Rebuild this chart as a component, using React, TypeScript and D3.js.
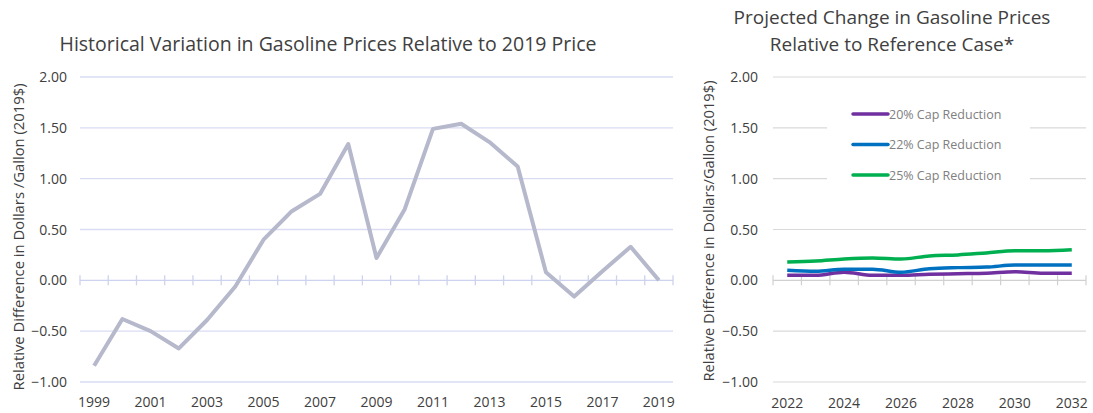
import React, { useEffect, useRef } from 'react';
import * as d3 from 'd3';

// historical data (relative to 2019 price)
const histYears = d3.range(1999, 2020).map(String);
const histValues = [
  -0.84, -0.38, -0.5, -0.67, -0.39, -0.06, 0.4, 0.68, 0.85, 1.34, 0.22,
  0.7, 1.49, 1.54, 1.36, 1.12, 0.08, -0.16, 0.09, 0.33, 0.0,
];

// projected data
const projYears = d3.range(2022, 2033).map(String);
const cap20 = [0.05, 0.05, 0.08, 0.05, 0.05, 0.06, 0.065, 0.07, 0.085, 0.07, 0.07];
const cap22 = [0.1, 0.09, 0.11, 0.11, 0.08, 0.115, 0.125, 0.13, 0.15, 0.15, 0.15];
const cap25 = [0.18, 0.19, 0.21, 0.22, 0.21, 0.24, 0.25, 0.27, 0.29, 0.29, 0.3];

const seriesNames = ['20% Cap Reduction', '22% Cap Reduction', '25% Cap Reduction'];
const seriesColors = ['#7030a0', '#0070c0', '#00b050'];

const yTicks = [2, 1.5, 1, 0.5, 0, -0.5, -1];

const FONT = "'Open Sans', sans-serif";

function App() {
  const ref = useRef<SVGSVGElement>(null);

  useEffect(() => {
    const svg = d3.select(ref.current);
    svg.selectAll('*').remove();

    const y = d3.scaleLinear().domain([-1, 2]).range([382, 77]);

    // ---------- left chart ----------
    const xL = d3.scaleBand().domain(histYears).range([80, 673]);
    const left = svg.append('g');

    left.append('text')
      .attr('x', 328).attr('y', 51)
      .attr('text-anchor', 'middle')
      .attr('font-size', 19.5).attr('fill', '#404040')
      .attr('font-family', FONT)
      .text('Historical Variation in Gasoline Prices Relative to 2019 Price');

    left.selectAll('line.grid')
      .data(yTicks.filter(d => d !== 0))
      .join('line')
      .attr('x1', 80).attr('x2', 673)
      .attr('y1', d => y(d)).attr('y2', d => y(d))
      .attr('stroke', '#d9dcf2').attr('stroke-width', 1.3);

    // zero axis with crossing ticks
    left.append('line')
      .attr('x1', 80).attr('x2', 673)
      .attr('y1', y(0)).attr('y2', y(0))
      .attr('stroke', '#cdd2ee').attr('stroke-width', 1.3);
    left.selectAll('line.tick')
      .data([...histYears.map(d => xL(d)!), 673])
      .join('line')
      .attr('x1', d => d).attr('x2', d => d)
      .attr('y1', y(0) - 5).attr('y2', y(0) + 5)
      .attr('stroke', '#cdd2ee').attr('stroke-width', 1.3);

    left.selectAll('text.ytick')
      .data(yTicks)
      .join('text')
      .attr('x', 67).attr('y', d => y(d) + 5)
      .attr('text-anchor', 'end')
      .attr('font-size', 14).attr('fill', '#404040')
      .attr('font-family', FONT)
      .text(d => d3.format('.2f')(d));

    left.selectAll('text.xtick')
      .data(histYears.filter((_, i) => i % 2 === 0))
      .join('text')
      .attr('x', d => xL(d)! + xL.bandwidth() / 2)
      .attr('y', 407)
      .attr('text-anchor', 'middle')
      .attr('font-size', 14).attr('fill', '#404040')
      .attr('font-family', FONT)
      .text(d => d);

    left.append('text')
      .attr('transform', `translate(24,${237}) rotate(-90)`)
      .attr('text-anchor', 'middle')
      .attr('font-size', 14.8).attr('fill', '#404040')
      .attr('font-family', FONT)
      .text('Relative Difference in Dollars /Gallon (2019$)');

    const lineL = d3.line<number>()
      .x((_, i) => xL(histYears[i])! + xL.bandwidth() / 2)
      .y(d => y(d));

    left.append('path')
      .datum(histValues)
      .attr('d', lineL)
      .attr('fill', 'none')
      .attr('stroke', '#b6b8cc')
      .attr('stroke-width', 4)
      .attr('stroke-linejoin', 'round');

    // ---------- right chart ----------
    const xR = d3.scaleBand().domain(projYears).range([773, 1086]);
    const right = svg.append('g');

    right.append('text')
      .attr('x', 892).attr('y', 24)
      .attr('text-anchor', 'middle')
      .attr('font-size', 19).attr('fill', '#404040')
      .attr('font-family', FONT)
      .text('Projected Change in Gasoline Prices');
    right.append('text')
      .attr('x', 892).attr('y', 51)
      .attr('text-anchor', 'middle')
      .attr('font-size', 19).attr('fill', '#404040')
      .attr('font-family', FONT)
      .text('Relative to Reference Case*');

    right.selectAll('line.grid')
      .data(yTicks.filter(d => d !== 0))
      .join('line')
      .attr('x1', 773).attr('x2', 1086)
      .attr('y1', d => y(d)).attr('y2', d => y(d))
      .attr('stroke', '#d9d9d9').attr('stroke-width', 1.2);

    right.append('line')
      .attr('x1', 773).attr('x2', 1086)
      .attr('y1', y(0)).attr('y2', y(0))
      .attr('stroke', '#d0d0d0').attr('stroke-width', 1.2);
    right.selectAll('line.tick')
      .data([...projYears.map(d => xR(d)!), 1086])
      .join('line')
      .attr('x1', d => d).attr('x2', d => d)
      .attr('y1', y(0) - 5).attr('y2', y(0) + 5)
      .attr('stroke', '#d0d0d0').attr('stroke-width', 1.2);

    right.selectAll('text.ytick')
      .data(yTicks)
      .join('text')
      .attr('x', 758).attr('y', d => y(d) + 5)
      .attr('text-anchor', 'end')
      .attr('font-size', 14).attr('fill', '#404040')
      .attr('font-family', FONT)
      .text(d => d3.format('.2f')(d));

    right.selectAll('text.xtick')
      .data(projYears.filter((_, i) => i % 2 === 0))
      .join('text')
      .attr('x', d => xR(d)! + xR.bandwidth() / 2)
      .attr('y', 408)
      .attr('text-anchor', 'middle')
      .attr('font-size', 14).attr('fill', '#404040')
      .attr('font-family', FONT)
      .text(d => d);

    right.append('text')
      .attr('transform', `translate(714,${231}) rotate(-90)`)
      .attr('text-anchor', 'middle')
      .attr('font-size', 14.7).attr('fill', '#404040')
      .attr('font-family', FONT)
      .text('Relative Difference in Dollars/Gallon (2019$)');

    const lineR = d3.line<number>()
      .x((_, i) => xR(projYears[i])! + xR.bandwidth() / 2)
      .y(d => y(d))
      .curve(d3.curveMonotoneX);

    [cap20, cap22, cap25].forEach((vals, k) => {
      right.append('path')
        .datum(vals)
        .attr('d', lineR)
        .attr('fill', 'none')
        .attr('stroke', seriesColors[k])
        .attr('stroke-width', 3.5)
        .attr('stroke-linejoin', 'round');
    });

    // legend (white box interrupts gridlines)
    const lg = right.append('g');
    lg.append('rect')
      .attr('x', 827).attr('y', 100).attr('width', 203).attr('height', 90)
      .attr('fill', '#ffffff');
    seriesNames.forEach((name, k) => {
      const ly = 114 + k * 30.5;
      lg.append('line')
        .attr('x1', 853).attr('x2', 888)
        .attr('y1', ly).attr('y2', ly)
        .attr('stroke', seriesColors[k]).attr('stroke-width', 3.5)
        .attr('stroke-linecap', 'round');
      lg.append('text')
        .attr('x', 889).attr('y', ly + 4.5)
        .attr('font-size', 12.5).attr('fill', '#808080')
        .attr('font-family', FONT)
        .text(name);
    });
  }, []);

  return (
    <svg
      ref={ref}
      width={1093}
      height={413}
      style={{ position: 'absolute', left: 0, top: 0, background: '#fff' }}
    ></svg>
  );
}

export default App;
